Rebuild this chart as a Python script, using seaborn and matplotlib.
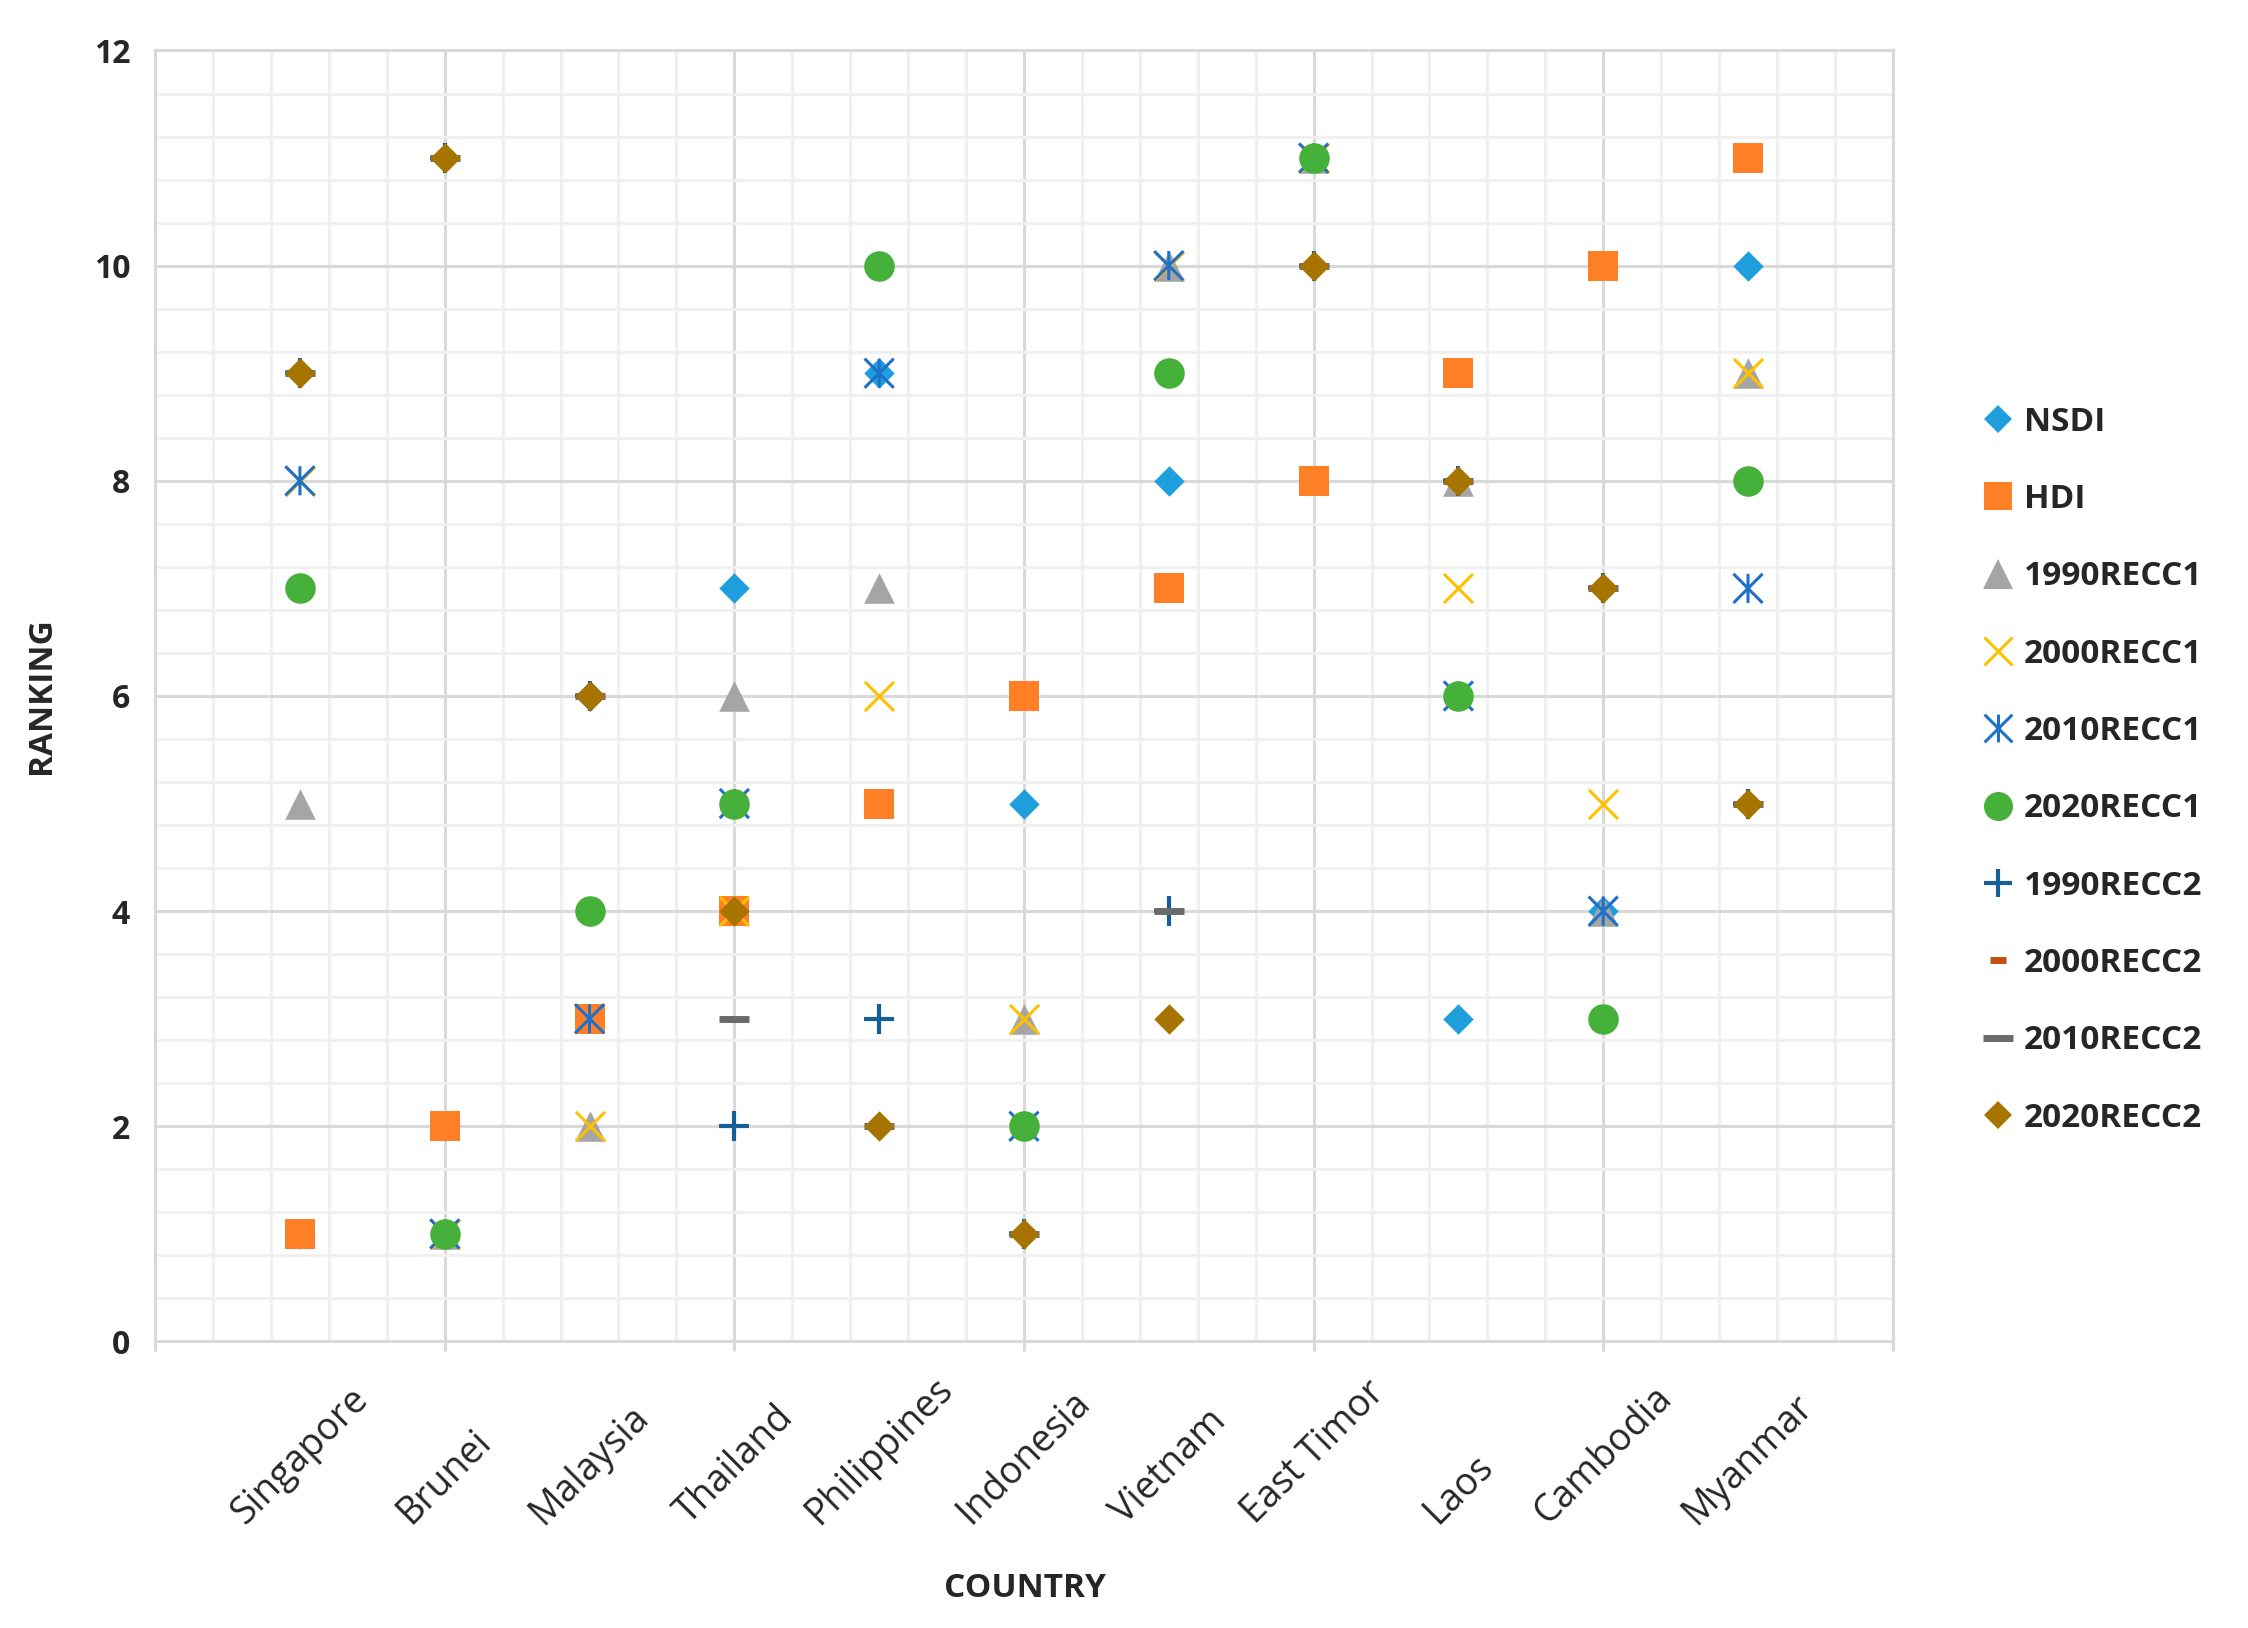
import numpy as np
import matplotlib
matplotlib.use("Agg")
import matplotlib.pyplot as plt
import seaborn as sns
from matplotlib.path import Path
from matplotlib.ticker import MultipleLocator
from matplotlib.lines import Line2D

# data: rankings per country
countries = ["Singapore", "Brunei", "Malaysia", "Thailand", "Philippines",
             "Indonesia", "Vietnam", "East Timor", "Laos", "Cambodia", "Myanmar"]
nsdi = [1, 2, 6, 7, 9, 5, 8, 11, 3, 4, 10]
hdi = [1, 2, 3, 4, 5, 6, 7, 8, 9, 10, 11]
recc1_1990 = [5, 1, 2, 6, 7, 3, 10, 11, 8, 4, 9]
recc1_2000 = [8, 1, 2, 4, 6, 3, 10, 11, 7, 5, 9]
recc1_2010 = [8, 1, 3, 5, 9, 2, 10, 11, 6, 4, 7]
recc1_2020 = [7, 1, 4, 5, 10, 2, 9, 11, 6, 3, 8]
recc2_1990 = [9, 11, 6, 2, 3, 1, 4, 10, 8, 7, 5]
recc2_2000 = [9, 11, 6, 4, 2, 1, 3, 10, 8, 7, 5]
recc2_2010 = [9, 11, 6, 3, 2, 1, 4, 10, 8, 7, 5]
recc2_2020 = [9, 11, 6, 4, 2, 1, 3, 10, 8, 7, 5]

series_names = ["NSDI", "HDI", "1990RECC1", "2000RECC1", "2010RECC1", "2020RECC1",
                "1990RECC2", "2000RECC2", "2010RECC2", "2020RECC2"]
series_vals = [nsdi, hdi, recc1_1990, recc1_2000, recc1_2010, recc1_2020,
               recc2_1990, recc2_2000, recc2_2010, recc2_2020]

# excel-like star marker (x with a vertical bar)
star = Path([(-1, -1), (1, 1), (-1, 1), (1, -1), (0, -1), (0, 1)],
            [Path.MOVETO, Path.LINETO, Path.MOVETO, Path.LINETO, Path.MOVETO, Path.LINETO])

styles = [
    dict(marker="D", color="#1F9EDD", ms=15.5, lw=0, filled=True),
    dict(marker="s", color="#FF7F27", ms=21, lw=0, filled=True),
    dict(marker="^", color="#A5A5A5", ms=22, lw=0, filled=True),
    dict(marker="x", color="#FFC000", ms=21, lw=2.2, filled=False),
    dict(marker=star, color="#1F70C8", ms=21, lw=2.2, filled=False),
    dict(marker="o", color="#45B03A", ms=22, lw=0, filled=True),
    dict(marker="+", color="#175F98", ms=21, lw=3.0, filled=False),
    dict(marker="_", color="#C4500F", ms=12, lw=5, filled=False),
    dict(marker="_", color="#6B6B6B", ms=22, lw=5, filled=False),
    dict(marker="D", color="#A87400", ms=15.5, lw=0, filled=True),
]

sns.set_theme(style="white")
plt.rcParams['font.family'] = ["Open Sans", "DejaVu Sans"]

fig = plt.figure(figsize=(22.48, 16.28), dpi=100)
ax = fig.add_axes([0.069, 0.176, 0.773, 0.793])

x_pos = np.arange(1, len(countries) + 1)

handles = []
for name, vals, st in zip(series_names, series_vals, styles):
    if st["filled"]:
        sns.scatterplot(x=x_pos, y=vals, marker=st["marker"], color=st["color"],
                        s=st["ms"] ** 2, linewidth=0, ax=ax, zorder=3, legend=False)
    elif isinstance(st["marker"], Path):
        sns.scatterplot(x=x_pos, y=vals, marker=st["marker"], facecolor="none",
                        edgecolor=st["color"], s=st["ms"] ** 2, linewidth=st["lw"],
                        ax=ax, zorder=3, legend=False)
    else:
        sns.scatterplot(x=x_pos, y=vals, marker=st["marker"], color=st["color"],
                        s=st["ms"] ** 2, linewidth=st["lw"], ax=ax, zorder=3, legend=False)
    handles.append(Line2D([], [], linestyle="none", marker=st["marker"],
                          color=st["color"], markersize=st["ms"] * 0.95,
                          markerfacecolor="none" if isinstance(st["marker"], Path) else st["color"],
                          markeredgewidth=st["lw"] if not st["filled"] else 0,
                          label=name))

ax.set_xlim(0, 12)
ax.set_ylim(0, 12)

ax.xaxis.set_major_locator(MultipleLocator(2))
ax.xaxis.set_minor_locator(MultipleLocator(0.4))
ax.yaxis.set_major_locator(MultipleLocator(2))
ax.yaxis.set_minor_locator(MultipleLocator(0.4))
ax.grid(which="major", color="#D9D9D9", linewidth=2.2, zorder=0)
ax.grid(which="minor", color="#F0F0F0", linewidth=2.2, zorder=0)
ax.set_axisbelow(True)
for sp in ax.spines.values():
    sp.set_color("#D9D9D9")
    sp.set_linewidth(2.2)

ax.tick_params(axis="x", which="major", bottom=True, length=7, width=2.2,
               color="#D9D9D9", labelbottom=False)
ax.tick_params(axis="x", which="minor", length=0)
ax.tick_params(axis="y", which="both", length=0, pad=18, labelsize=23)
for lab in ax.get_yticklabels():
    lab.set_fontweight("bold")
    lab.set_color("#262626")

# country labels on a secondary axis
sec = ax.secondary_xaxis("bottom")
sec.set_xticks(x_pos, labels=countries)
sec.tick_params(length=0, pad=137, labelsize=27, labelcolor="#262626")
sec.spines["bottom"].set_visible(False)
for lab in sec.get_xticklabels():
    lab.set_rotation(45)
    lab.set_ha("center")
    lab.set_va("bottom")

ax.set_ylabel("RANKING", fontsize=24, fontweight="bold", color="#262626", labelpad=26)
fig.text(0.456, 0.024, "COUNTRY", fontsize=24, fontweight="bold",
         color="#262626", ha="center", va="center")

ax.legend(handles=handles, loc="center left", bbox_to_anchor=(0.873, 0.527),
          bbox_transform=fig.transFigure, frameon=False,
          prop={"weight": "bold", "size": 24}, handlelength=1.1,
          handletextpad=0.25, labelspacing=1.33, borderpad=0)

fig.savefig("out.png", dpi=100)
